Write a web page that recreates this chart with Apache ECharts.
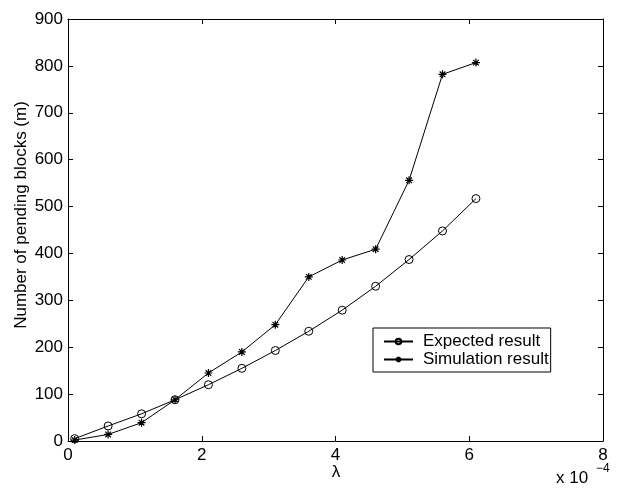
<!DOCTYPE html>
<html>
<head>
<meta charset="utf-8">
<script src="https://cdn.jsdelivr.net/npm/echarts@6/dist/echarts.min.js"></script>
<style>html,body{margin:0;padding:0;background:#fff;}#c{width:621px;height:493px;}</style>
</head>
<body>
<div id="c"></div>
<script>
var lambdaX = [0.1, 0.6, 1.1, 1.6, 2.1, 2.6, 3.1, 3.6, 4.1, 4.6, 5.1, 5.6, 6.1];
var expected = [5, 32, 58, 88, 120, 155, 193, 234, 279, 330, 387, 448, 517];
var simulation = [2, 14, 39, 88, 145, 190, 248, 350, 386, 409, 556, 782, 807];
var seriesNames = ['Expected result', 'Simulation result'];
var yTitle = 'Number of pending blocks (m)';
var xTitle = 'λ';

var FONT = 'Liberation Sans, Arial, sans-serif';
function pairs(ys){ return lambdaX.map(function(x,i){ return [x, ys[i]]; }); }
var star = 'path://M0,5L10,5M5,0L5,10M1.5,1.5L8.5,8.5M1.5,8.5L8.5,1.5';

var chart = echarts.init(document.getElementById('c'), null, {renderer:'canvas'});
function axisCommon(){
  return {
    axisLine:{show:true, onZero:false, lineStyle:{color:'#000', width:1}},
    axisTick:{show:true, inside:true, length:5, lineStyle:{color:'#000', width:1}},
    splitLine:{show:false}
  };
}
chart.setOption({
  animation:false,
  backgroundColor:'#fff',
  grid:{left:68, right:18, top:19, bottom:52, containLabel:false},
  xAxis:[
    Object.assign({type:'value', min:0, max:8, interval:2, position:'bottom',
      axisLabel:{color:'#000', fontSize:17, fontFamily:FONT, margin:6}}, axisCommon()),
    Object.assign({type:'value', min:0, max:8, interval:2, position:'top',
      axisLabel:{show:false}}, axisCommon())
  ],
  yAxis:[
    Object.assign({type:'value', min:0, max:900, interval:100, position:'left',
      axisLabel:{color:'#000', fontSize:17, fontFamily:FONT, margin:5}}, axisCommon()),
    Object.assign({type:'value', min:0, max:900, interval:100, position:'right',
      axisLabel:{show:false}}, axisCommon())
  ],
  legend:{
    orient:'vertical', left:373, top:328,
    data:seriesNames,
    backgroundColor:'#fff', borderColor:'#000', borderWidth:1, borderRadius:0,
    padding:[5,2,4,10], itemGap:1, itemWidth:29, itemHeight:7,
    textStyle:{color:'#000', fontSize:17, fontFamily:FONT, padding:[0,0,0,5]}
  },
  graphic:[
    {type:'text', x:21, y:215, rotation:Math.PI/2,
      style:{text:yTitle, fill:'#000', font:'17px '+FONT, textAlign:'center', textVerticalAlign:'middle'}},
    {type:'text', x:336, y:472,
      style:{text:xTitle, fill:'#000', font:'17px '+FONT, textAlign:'center', textVerticalAlign:'middle'}},
    {type:'text', x:556, y:478,
      style:{text:'x 10', fill:'#000', font:'17px '+FONT, textAlign:'left', textVerticalAlign:'middle'}},
    {type:'text', x:596, y:469,
      style:{text:'−4', fill:'#000', font:'12px '+FONT, textAlign:'left', textVerticalAlign:'middle'}}
  ],
  series:[
    {name:seriesNames[0], type:'line', data:pairs(expected),
      symbol:'circle', symbolSize:8,
      lineStyle:{color:'#000', width:1},
      itemStyle:{color:'rgba(0,0,0,0)', borderColor:'#000', borderWidth:1}},
    {name:seriesNames[1], type:'line', data:pairs(simulation),
      symbol:star, symbolSize:8,
      lineStyle:{color:'#000', width:1},
      itemStyle:{color:'rgba(0,0,0,0)', borderColor:'#000', borderWidth:1.2}}
  ]
});
</script>
</body>
</html>
